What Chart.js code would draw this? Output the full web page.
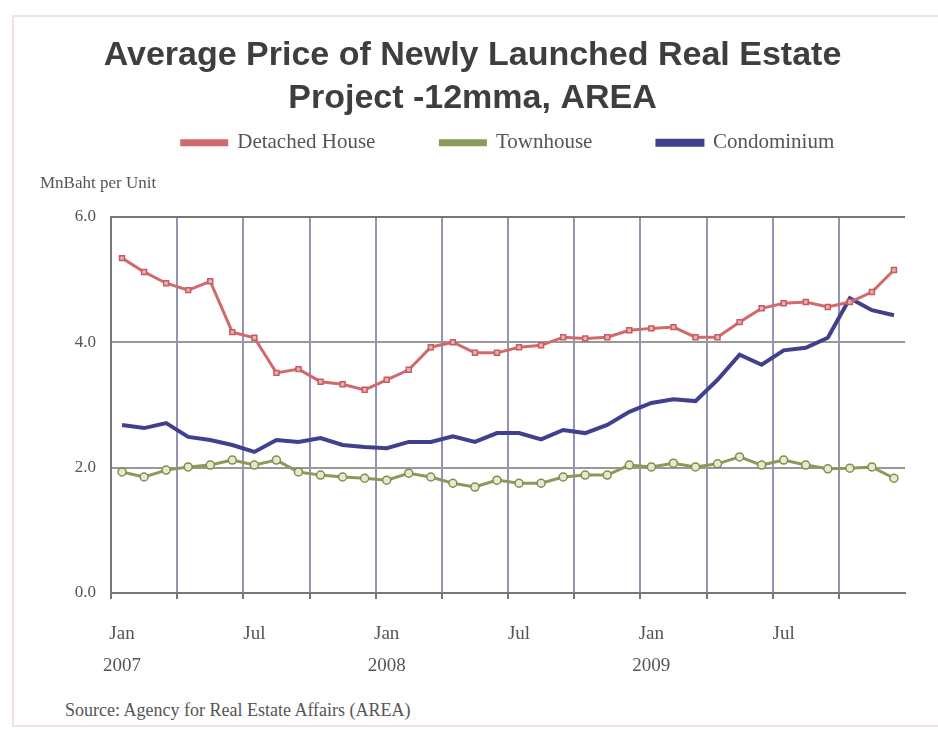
<!DOCTYPE html>
<html>
<head>
<meta charset="utf-8">
<script src="https://cdn.jsdelivr.net/npm/chart.js@4.4.1/dist/chart.umd.min.js"></script>
<style>
  body { margin: 0; background: #fff; }
  #wrap { position: relative; width: 938px; height: 730px; overflow: hidden; }
  #frame { position: absolute; left: 12px; top: 15px; width: 940px; height: 712px; border: 2px solid #f3e0e3; box-sizing: border-box; }
  #chartBox { position: absolute; left: 0; top: 0; width: 938px; height: 690px; }
  #source { position: absolute; left: 65px; top: 700px; font: 18px 'Liberation Serif', serif; color: #555; }
</style>
</head>
<body>
<div id="wrap">
  <div id="frame"></div>
  <div id="chartBox"><canvas id="lineChart"></canvas></div>
  <div id="source">Source: Agency for Real Estate Affairs (AREA)</div>
</div>
<script>
// Meses (Jan 2007 - Dec 2009)
const categories = [
    'Jan 2007', 'Feb 2007', 'Mar 2007', 'Apr 2007', 'May 2007', 'Jun 2007',
    'Jul 2007', 'Aug 2007', 'Sep 2007', 'Oct 2007', 'Nov 2007', 'Dec 2007',
    'Jan 2008', 'Feb 2008', 'Mar 2008', 'Apr 2008', 'May 2008', 'Jun 2008',
    'Jul 2008', 'Aug 2008', 'Sep 2008', 'Oct 2008', 'Nov 2008', 'Dec 2008',
    'Jan 2009', 'Feb 2009', 'Mar 2009', 'Apr 2009', 'May 2009', 'Jun 2009',
    'Jul 2009', 'Aug 2009', 'Sep 2009', 'Oct 2009', 'Nov 2009', 'Dec 2009'
];

// Séries (MnBaht por unidade)
const detachedHouse = [
    5.34, 5.12, 4.94, 4.83, 4.97, 4.16, 4.07, 3.51, 3.57, 3.37, 3.33, 3.24,
    3.40, 3.56, 3.92, 4.00, 3.83, 3.83, 3.92, 3.95, 4.08, 4.06, 4.08, 4.19,
    4.22, 4.24, 4.08, 4.08, 4.32, 4.54, 4.62, 4.64, 4.56, 4.64, 4.80, 5.15
];
const townhouse = [
    1.93, 1.85, 1.96, 2.01, 2.04, 2.12, 2.04, 2.12, 1.93, 1.88, 1.85, 1.83,
    1.80, 1.91, 1.85, 1.75, 1.69, 1.80, 1.75, 1.75, 1.85, 1.88, 1.88, 2.04,
    2.01, 2.07, 2.01, 2.06, 2.17, 2.04, 2.12, 2.04, 1.98, 1.99, 2.01, 1.83
];
const condominium = [
    2.68, 2.63, 2.71, 2.49, 2.44, 2.36, 2.25, 2.44, 2.41, 2.47, 2.36, 2.33,
    2.31, 2.41, 2.41, 2.50, 2.41, 2.55, 2.55, 2.45, 2.60, 2.55, 2.68, 2.89,
    3.03, 3.09, 3.06, 3.40, 3.80, 3.64, 3.87, 3.91, 4.07, 4.70, 4.51, 4.43
];

// Rótulos do eixo Y
const yTicks = [0, 2, 4, 6];

const serif = "'Liberation Serif', 'Times New Roman', serif";

const ctx = document.getElementById('lineChart').getContext('2d');
const lineChart = new Chart(ctx, {
    type: 'line',
    data: {
        labels: categories,
        datasets: [{
            label: 'Detached House',
            data: detachedHouse,
            borderColor: '#d06a6d',
            backgroundColor: '#d06a6d',
            borderWidth: 3,
            pointStyle: 'rect',
            pointRadius: 3.5,
            pointBackgroundColor: '#eab0b0',
            pointBorderColor: '#c65c60',
            pointBorderWidth: 1.5,
            tension: 0
        }, {
            label: 'Townhouse',
            data: townhouse,
            borderColor: '#8a9a58',
            backgroundColor: '#8a9a58',
            borderWidth: 3,
            pointStyle: 'circle',
            pointRadius: 4,
            pointBackgroundColor: '#e4ead0',
            pointBorderColor: '#7f8f4c',
            pointBorderWidth: 1.5,
            tension: 0
        }, {
            label: 'Condominium',
            data: condominium,
            borderColor: '#40408e',
            backgroundColor: '#40408e',
            borderWidth: 4,
            pointRadius: 0,
            tension: 0
        }]
    },
    options: {
        responsive: true,
        maintainAspectRatio: false,
        animation: false,
        layout: { padding: { left: 40, right: 33, top: 0, bottom: 10 } },
        plugins: {
            title: {
                display: true,
                text: ['Average Price of Newly Launched Real Estate', 'Project -12mma, AREA'],
                color: '#3e3e3e',
                font: { family: "'Liberation Sans', Arial, sans-serif", size: 34, weight: 'bold', lineHeight: 1.27 },
                padding: { top: 34, bottom: -53 } // compensa o espaço vertical da legenda
            },
            legend: {
                display: true,
                position: 'top',
                fullSize: false,
                weight: 1800,
                labels: {
                    boxWidth: 45,
                    boxHeight: 4,
                    padding: 65,
                    color: '#555',
                    font: { family: serif, size: 21 }
                }
            },
            subtitle: {
                display: true,
                text: 'MnBaht per Unit',
                align: 'start',
                color: '#555',
                font: { family: serif, size: 17 },
                padding: { top: 10, bottom: 23 }
            },
            tooltip: { enabled: false }
        },
        scales: {
            x: {
                offset: true,
                grid: {
                    offset: true,
                    color: (c) => c.index === categories.length ? '#777' : (c.index % 3 === 0 ? '#9393b5' : 'transparent'),
                    tickColor: (c) => c.index % 3 === 0 ? '#777' : 'transparent',
                    tickLength: 6,
                    lineWidth: 2
                },
                border: { display: true, color: '#777', width: 2 },
                ticks: {
                    autoSkip: false,
                    maxRotation: 0,
                    padding: 19,
                    color: '#555',
                    font: { family: serif, size: 19, lineHeight: 1.7 },
                    callback: function (value, index) {
                        const parts = categories[index].split(' ');
                        if (parts[0] === 'Jan') return [parts[0], parts[1]];
                        if (parts[0] === 'Jul') return parts[0];
                        return '';
                    }
                },
                afterFit: (scale) => { scale.height = 87; }
            },
            y: {
                min: 0,
                max: 6,
                afterBuildTicks: (scale) => { scale.ticks = yTicks.map(v => ({ value: v })); },
                grid: {
                    color: (c) => c.tick && c.tick.value === 6 ? '#777' : '#999',
                    lineWidth: 2,
                    drawTicks: false
                },
                border: { display: true, color: '#777', width: 2 },
                ticks: {
                    padding: 15,
                    color: '#555',
                    font: { family: serif, size: 17 },
                    callback: (v) => Number(v).toFixed(1)
                },
                afterFit: (scale) => { scale.width = 71; }
            }
        }
    }
});
</script>
</body>
</html>
